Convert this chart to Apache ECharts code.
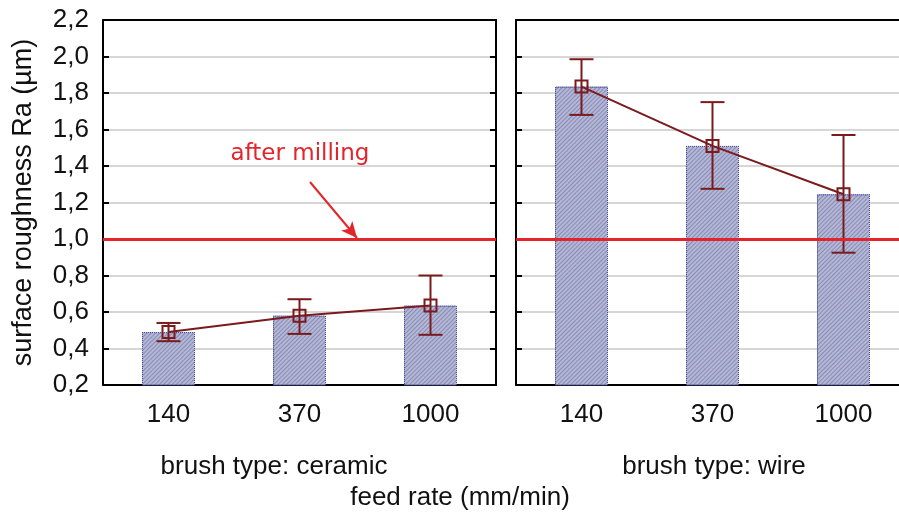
<!DOCTYPE html>
<html>
<head>
<meta charset="utf-8">
<title>surface roughness Ra</title>
<script src="https://cdn.jsdelivr.net/npm/echarts@6/dist/echarts.min.js"></script>
<style>
  html, body { margin: 0; padding: 0; background: #fff; }
  #chart { width: 899px; height: 517px; }
</style>
</head>
<body>
<div id="chart"></div>
<script>
  // values
  var feedRates = ['140', '370', '1000']
  var ceramicMean = [0.49, 0.58, 0.635]
  var ceramicLow = [0.44, 0.48, 0.475]
  var ceramicHigh = [0.54, 0.67, 0.80]
  var wireMean = [1.835, 1.51, 1.245]
  var wireLow = [1.68, 1.275, 0.925]
  var wireHigh = [1.985, 1.75, 1.57]
  var afterMilling = 1.0
  var yMin = 0.2
  var yMax = 2.2
  var yStep = 0.2

  var dark = '#7a1a1c'
  var red = '#e3242b'
  var font = "'Liberation Sans', Arial, sans-serif"

  function errRows (low, high) {
    var rows = []
    for (var i = 0; i < low.length; i++) {
      rows.push([i, low[i], high[i]])
    }
    return rows
  }

  function errorBars (params, api) {
    var lo = api.coord([api.value(0), api.value(1)])
    var hi = api.coord([api.value(0), api.value(2)])
    var half = 12
    var style = { stroke: dark, lineWidth: 2 }
    return {
      type: 'group',
      children: [
        { type: 'line', shape: { x1: hi[0], y1: hi[1], x2: lo[0], y2: lo[1] }, style: style },
        { type: 'line', shape: { x1: hi[0] - half, y1: hi[1], x2: hi[0] + half, y2: hi[1] }, style: style },
        { type: 'line', shape: { x1: lo[0] - half, y1: lo[1], x2: lo[0] + half, y2: lo[1] }, style: style }
      ]
    }
  }

  function bottomAxis (grid) {
    return {
      type: 'category',
      gridIndex: grid,
      position: 'bottom',
      data: feedRates,
      axisLine: { lineStyle: { color: '#000', width: 2 } },
      axisTick: { inside: true, alignWithLabel: true, length: 6, lineStyle: { color: '#000', width: 2 } },
      axisLabel: { fontSize: 26, color: '#111', margin: 17, fontFamily: font },
      splitLine: { show: false }
    }
  }

  function topAxis (grid) {
    return {
      type: 'category',
      gridIndex: grid,
      position: 'top',
      data: feedRates,
      axisLine: { lineStyle: { color: '#000', width: 2 } },
      axisTick: { inside: true, alignWithLabel: true, length: 6, lineStyle: { color: '#000', width: 2 } },
      axisLabel: { show: false },
      splitLine: { show: false }
    }
  }

  function valueAxis (grid, pos, labels, split) {
    var axis = {
      type: 'value',
      gridIndex: grid,
      position: pos,
      min: yMin,
      max: yMax,
      interval: yStep,
      axisLine: { show: true, lineStyle: { color: '#000', width: 2 } },
      axisTick: { show: true, inside: true, length: 6, lineStyle: { color: '#000', width: 2 } },
      axisLabel: {
        show: labels,
        fontSize: 26,
        color: '#111',
        margin: 14,
        fontFamily: font,
        formatter: function (v) { return v.toFixed(1).replace('.', ',') }
      },
      splitLine: { show: split, lineStyle: { color: '#c8c8c8', width: 1.5 } }
    }
    if (labels) {
      axis.name = 'surface roughness Ra (µm)'
      axis.nameLocation = 'middle'
      axis.nameGap = 66
      axis.nameTextStyle = { fontSize: 27, color: '#111', fontFamily: font }
    }
    return axis
  }

  function barSeries (x, y, values) {
    return {
      type: 'bar',
      xAxisIndex: x,
      yAxisIndex: y,
      data: values,
      barWidth: 53,
      z: 2,
      itemStyle: {
        color: '#b4b8d6',
        borderColor: '#4a4e95',
        borderWidth: 1,
        borderType: 'dotted',
        decal: {
          symbol: 'rect',
          symbolSize: 1,
          dashArrayX: [1, 0],
          dashArrayY: [1, 2],
          rotation: -Math.PI / 4,
          color: 'rgba(80, 85, 140, 0.45)'
        }
      }
    }
  }

  function meanSeries (x, y, values) {
    return {
      type: 'line',
      xAxisIndex: x,
      yAxisIndex: y,
      data: values,
      z: 4,
      symbol: 'rect',
      symbolSize: 12,
      lineStyle: { color: dark, width: 2 },
      itemStyle: { color: 'rgba(0,0,0,0)', borderColor: dark, borderWidth: 2 }
    }
  }

  function errSeries (x, y, low, high) {
    return {
      type: 'custom',
      xAxisIndex: x,
      yAxisIndex: y,
      z: 3,
      renderItem: errorBars,
      encode: { x: 0, y: [1, 2] },
      data: errRows(low, high)
    }
  }

  function refSeries (x, y, withArrow) {
    var lines = [{ yAxis: afterMilling }]
    if (withArrow) {
      lines.push([
        { x: 310, y: 182, symbol: 'none', lineStyle: { width: 2 } },
        { x: 357, y: 238, symbol: 'arrow', symbolSize: [11, 16] }
      ])
    }
    return {
      type: 'line',
      xAxisIndex: x,
      yAxisIndex: y,
      data: [],
      z: 1,
      markLine: {
        silent: true,
        symbol: 'none',
        label: { show: false },
        lineStyle: { color: red, width: 3, type: 'solid' },
        data: lines
      }
    }
  }

  var chart = echarts.init(document.getElementById('chart'))
  chart.setOption({
    animation: false,
    textStyle: { fontFamily: font },
    grid: [
      { left: 103, top: 20, width: 393, height: 365, outerBoundsMode: 'none' },
      { left: 516, top: 20, width: 393, height: 365, outerBoundsMode: 'none' }
    ],
    xAxis: [bottomAxis(0), topAxis(0), bottomAxis(1), topAxis(1)],
    yAxis: [valueAxis(0, 'left', true, true), valueAxis(0, 'right', false, false), valueAxis(1, 'left', false, true)],
    graphic: [
      { type: 'text', style: { text: 'after milling', x: 300, y: 154, align: 'center', verticalAlign: 'middle', fill: red, fontSize: 23, fontFamily: "'DejaVu Sans', sans-serif" } },
      { type: 'text', style: { text: 'brush type: ceramic', x: 274, y: 467, align: 'center', verticalAlign: 'middle', fill: '#111', fontSize: 26, fontFamily: font } },
      { type: 'text', style: { text: 'brush type: wire', x: 714, y: 467, align: 'center', verticalAlign: 'middle', fill: '#111', fontSize: 26, fontFamily: font } },
      { type: 'text', style: { text: 'feed rate (mm/min)', x: 460, y: 498, align: 'center', verticalAlign: 'middle', fill: '#111', fontSize: 26, fontFamily: font } }
    ],
    series: [
      refSeries(0, 0, true),
      barSeries(0, 0, ceramicMean),
      errSeries(0, 0, ceramicLow, ceramicHigh),
      meanSeries(0, 0, ceramicMean),
      refSeries(2, 2, false),
      barSeries(2, 2, wireMean),
      errSeries(2, 2, wireLow, wireHigh),
      meanSeries(2, 2, wireMean)
    ]
  })
</script>
</body>
</html>
